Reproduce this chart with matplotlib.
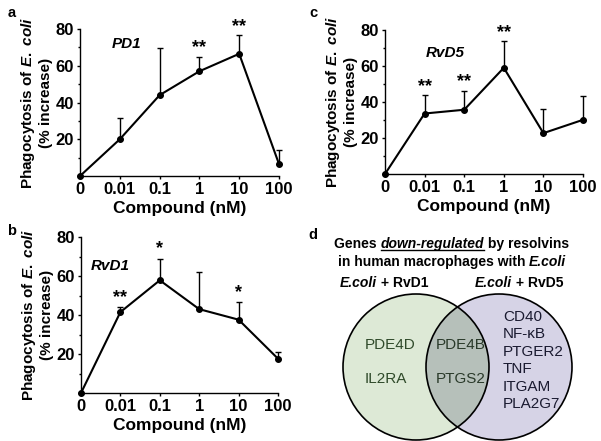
import numpy as np
import matplotlib
matplotlib.use("Agg")
import matplotlib.pyplot as plt
from matplotlib.patches import Circle

plt.rcParams['font.family'] = ['Liberation Sans', 'DejaVu Sans']
plt.rcParams['font.weight'] = 'bold'
plt.rcParams['mathtext.fontset'] = 'custom'
plt.rcParams['mathtext.rm'] = 'Liberation Sans:bold'
plt.rcParams['mathtext.bf'] = 'Liberation Sans:bold'
plt.rcParams['mathtext.it'] = 'Liberation Sans:bold:italic'

# data
doses = ['0', '0.01', '0.1', '1', '10', '100']

pd1_mean = [0, 20, 44, 57, 66.5, 6.5]
pd1_err = [0, 11.5, 25.5, 8, 10, 7.5]
pd1_stars = ['', '', '', '**', '**', '']

rvd1_mean = [0, 41.5, 57.8, 43, 37.6, 17.6]
rvd1_err = [0, 2.5, 11, 19, 9, 3.3]
rvd1_stars = ['', '**', '*', '', '*', '']

rvd5_mean = [0, 33.6, 35.7, 59, 22.7, 30.1]
rvd5_err = [0, 10.2, 10.5, 14.7, 13.3, 13.5]
rvd5_stars = ['', '**', '**', '**', '', '']

genes_rvd1 = ['PDE4D', 'IL2RA']
genes_both = ['PDE4B', 'PTGS2']
genes_rvd5 = ['CD40', 'NF-κB', 'PTGER2', 'TNF', 'ITGAM', 'PLA2G7']

W, H = 601, 441
fig = plt.figure(figsize=(W / 100, H / 100), dpi=100)


def px_axes(x0, x1, ytop, ybot):
    return fig.add_axes([x0 / W, 1 - ybot / H, (x1 - x0) / W, (ybot - ytop) / H])


def line_panel(ax, mean, err, stars, name, name_xy):
    x = np.arange(len(doses))
    ax.errorbar(x, mean, yerr=[np.zeros(len(err)), err], color='black', lw=1.5,
                marker='o', ms=4, capsize=2, capthick=1, elinewidth=1, clip_on=False)
    for xi, m, e, s in zip(x, mean, err, stars):
        if s:
            ax.text(xi, m + e + 5, s, ha='center', va='center', fontsize=13,
                    fontweight='bold', clip_on=False)
    ax.text(name_xy[0], name_xy[1], name, ha='center', va='center', fontsize=11,
            fontweight='bold', fontstyle='italic')
    ax.set_xlim(0, 5)
    ax.set_ylim(0, 80)
    ax.set_xticks(x)
    ax.set_xticklabels(doses)
    ax.set_yticks([20, 40, 60, 80])
    ax.set_yticks([10, 30, 50, 70], minor=True)
    ax.tick_params(axis='both', labelsize=12, width=1, length=2.5, pad=2)
    ax.tick_params(axis='y', which='minor', length=1.5, width=1)
    for lab in ax.get_xticklabels() + ax.get_yticklabels():
        lab.set_fontweight('bold')
    ax.spines['top'].set_visible(False)
    ax.spines['right'].set_visible(False)
    ax.spines['left'].set_linewidth(1)
    ax.spines['bottom'].set_linewidth(1)
    ax.set_xlabel('Compound (nM)', fontsize=12.5, fontweight='bold', labelpad=3)
    ax.set_ylabel('Phagocytosis of $\\mathit{E.\\ coli}$\n(% increase)', fontsize=11,
                  fontweight='bold', labelpad=2, linespacing=1.1)


ax_a = px_axes(80, 279, 29, 176)
line_panel(ax_a, pd1_mean, pd1_err, pd1_stars, 'PD1', (1.18, 72))

ax_b = px_axes(81, 278, 237, 393)
line_panel(ax_b, rvd1_mean, rvd1_err, rvd1_stars, 'RvD1', (0.74, 65))

ax_c = px_axes(385, 583, 30, 174)
line_panel(ax_c, rvd5_mean, rvd5_err, rvd5_stars, 'RvD5', (1.52, 67))

for lab, (lx, ly) in zip('acbd', [(12, 13), (313, 13), (12, 231), (313, 235)]):
    fig.text(lx / W, 1 - ly / H, lab, fontsize=10.5, fontweight='bold', ha='center', va='center')

# venn panel, drawn in pixel coords
ax_d = fig.add_axes([0, 0, 1, 1], zorder=-1)
ax_d.set_xlim(0, W)
ax_d.set_ylim(H, 0)
ax_d.axis('off')

cl, cr, cy, r = 416, 499, 367, 73
ax_d.add_patch(Circle((cl, cy), r, facecolor='#dde9d6', edgecolor='none'))
ax_d.add_patch(Circle((cr, cy), r, facecolor='#d6d3e6', edgecolor='none'))
clip = Circle((cl, cy), r, transform=ax_d.transData)
inter = Circle((cr, cy), r, facecolor='#b6c0ba', edgecolor='none')
ax_d.add_patch(inter)
inter.set_clip_path(clip)
ax_d.add_patch(Circle((cl, cy), r, facecolor='none', edgecolor='black', lw=1.2))
ax_d.add_patch(Circle((cr, cy), r, facecolor='none', edgecolor='black', lw=1.2))

for i, g in enumerate(genes_rvd1):
    ax_d.text(365, 345 + i * 34, g, fontsize=11, fontweight='normal', color='#2f4a2a',
              ha='left', va='center')
for i, g in enumerate(genes_both):
    ax_d.text(436, 345 + i * 34, g, fontsize=11, fontweight='normal', color='#2a3a2a',
              ha='left', va='center')
for i, g in enumerate(genes_rvd5):
    ax_d.text(503, 317 + i * 17.4, g, fontsize=11, fontweight='normal', color='#1a1a30',
              ha='left', va='center')

fig.canvas.draw()
renderer = fig.canvas.get_renderer()


def rich_text(xc, y, parts, size, underline=None):
    # parts: list of (string, style); placed left to right, centred on xc
    texts, widths = [], []
    for s, st in parts:
        t = ax_d.text(0, y, s, fontsize=size, fontweight='bold', fontstyle=st,
                      ha='left', va='center')
        widths.append(t.get_window_extent(renderer).width)
        texts.append(t)
    x0 = xc - sum(widths) / 2
    for t, w in zip(texts, widths):
        t.set_x(x0)
        if underline is not None and t.get_text() == underline:
            ax_d.plot([x0, x0 + w], [y + 6, y + 6], color='black', lw=1)
        x0 += w


rich_text(452, 244, [('Genes ', 'normal'), ('down-regulated', 'italic'),
                     (' by resolvins', 'normal')], 10, underline='down-regulated')
rich_text(452, 262, [('in human macrophages with ', 'normal'), ('E.coli', 'italic')], 10)
rich_text(384, 283, [('E.coli', 'italic'), (' + RvD1', 'normal')], 10)
rich_text(519, 283, [('E.coli', 'italic'), (' + RvD5', 'normal')], 10)

fig.savefig('out.png', dpi=100)
